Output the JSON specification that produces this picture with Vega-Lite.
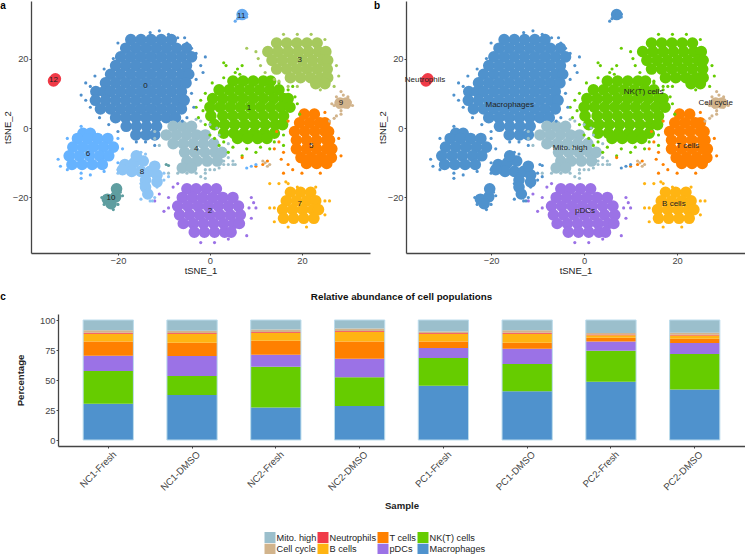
{"padding":0,"background":"white","config":{"view":{"stroke":null},"font":"Liberation Sans","axis":{"grid":false,"domainColor":"#444","domainWidth":1.3,"tickColor":"#444","tickSize":2,"labelColor":"#444","labelFontSize":9.3,"titleFontSize":9.5,"titleFontWeight":"normal","titleColor":"#222","labelPadding":1,"titlePadding":0}},
"datasets":{
"big":[
{"x":-17.2,"y":25.5,"c":0},{"x":-15,"y":25.5,"c":0},{"x":-12.8,"y":25.5,"c":0},{"x":-10.6,"y":25.5,"c":0},{"x":-8.4,"y":25.5,"c":0},
{"x":-18.3,"y":23,"c":0},{"x":-16.1,"y":23,"c":0},{"x":-13.9,"y":23,"c":0},{"x":-11.7,"y":23,"c":0},{"x":-9.5,"y":23,"c":0},{"x":-7.3,"y":23,"c":0},{"x":-5.1,"y":23,"c":0},
{"x":-19.4,"y":20.5,"c":0},{"x":-17.2,"y":20.5,"c":0},{"x":-15,"y":20.5,"c":0},{"x":-12.8,"y":20.5,"c":0},{"x":-10.6,"y":20.5,"c":0},{"x":-8.4,"y":20.5,"c":0},{"x":-6.2,"y":20.5,"c":0},{"x":-4,"y":20.5,"c":0},
{"x":-20.5,"y":18,"c":0},{"x":-18.3,"y":18,"c":0},{"x":-16.1,"y":18,"c":0},{"x":-13.9,"y":18,"c":0},{"x":-11.7,"y":18,"c":0},{"x":-9.5,"y":18,"c":0},{"x":-7.3,"y":18,"c":0},{"x":-5.1,"y":18,"c":0},
{"x":-21.6,"y":15.5,"c":0},{"x":-19.4,"y":15.5,"c":0},{"x":-17.2,"y":15.5,"c":0},{"x":-15,"y":15.5,"c":0},{"x":-12.8,"y":15.5,"c":0},{"x":-10.6,"y":15.5,"c":0},{"x":-8.4,"y":15.5,"c":0},{"x":-6.2,"y":15.5,"c":0},{"x":-4.6,"y":15.5,"c":0},
{"x":-22.7,"y":13,"c":0},{"x":-20.5,"y":13,"c":0},{"x":-18.3,"y":13,"c":0},{"x":-16.1,"y":13,"c":0},{"x":-13.9,"y":13,"c":0},{"x":-11.7,"y":13,"c":0},{"x":-9.5,"y":13,"c":0},{"x":-7.3,"y":13,"c":0},{"x":-5.2,"y":13,"c":0},
{"x":-24.8,"y":10.5,"c":0},{"x":-23,"y":10.5,"c":0},{"x":-21.6,"y":10.5,"c":0},{"x":-19.4,"y":10.5,"c":0},{"x":-17.2,"y":10.5,"c":0},{"x":-15,"y":10.5,"c":0},{"x":-12.8,"y":10.5,"c":0},{"x":-10.6,"y":10.5,"c":0},{"x":-8.4,"y":10.5,"c":0},{"x":-6.2,"y":10.5,"c":0},
{"x":-24.9,"y":8,"c":0},{"x":-22.7,"y":8,"c":0},{"x":-20.5,"y":8,"c":0},{"x":-18.3,"y":8,"c":0},{"x":-16.1,"y":8,"c":0},{"x":-13.9,"y":8,"c":0},{"x":-11.7,"y":8,"c":0},{"x":-9.5,"y":8,"c":0},{"x":-7.3,"y":8,"c":0},{"x":-5.6,"y":8,"c":0},
{"x":-23.8,"y":5.5,"c":0},{"x":-21.6,"y":5.5,"c":0},{"x":-19.4,"y":5.5,"c":0},{"x":-17.2,"y":5.5,"c":0},{"x":-15,"y":5.5,"c":0},{"x":-12.8,"y":5.5,"c":0},{"x":-10.6,"y":5.5,"c":0},{"x":-8.4,"y":5.5,"c":0},{"x":-6.2,"y":5.5,"c":0},
{"x":-20.5,"y":3,"c":0},{"x":-18.3,"y":3,"c":0},{"x":-16.1,"y":3,"c":0},{"x":-13.9,"y":3,"c":0},{"x":-11.7,"y":3,"c":0},{"x":-9.5,"y":3,"c":0},{"x":-7.5,"y":3,"c":0},
{"x":-18.2,"y":0.5,"c":0},{"x":-16,"y":0.5,"c":0},{"x":-13.8,"y":0.5,"c":0},{"x":-11.6,"y":0.5,"c":0},{"x":-16.1,"y":-2,"c":0},{"x":-13.9,"y":-2,"c":0},{"x":-12,"y":-2,"c":0},
{"x":-27.6,"y":-1.5,"c":6},{"x":-26,"y":-1.5,"c":6},{"x":-28.8,"y":-3,"c":6},{"x":-26.6,"y":-3,"c":6},{"x":-24.4,"y":-3,"c":6},{"x":-22.2,"y":-3,"c":6},
{"x":-29.8,"y":-5.5,"c":6},{"x":-27.6,"y":-5.5,"c":6},{"x":-25.4,"y":-5.5,"c":6},{"x":-23.2,"y":-5.5,"c":6},{"x":-21,"y":-5.5,"c":6},
{"x":-30.6,"y":-8,"c":6},{"x":-28.4,"y":-8,"c":6},{"x":-26.2,"y":-8,"c":6},{"x":-24,"y":-8,"c":6},{"x":-22,"y":-8,"c":6},
{"x":-30,"y":-10.5,"c":6},{"x":-27.8,"y":-10.5,"c":6},{"x":-25.6,"y":-10.5,"c":6},{"x":-23.4,"y":-10.5,"c":6},
{"x":-18.5,"y":-10.5,"c":8},{"x":-16.5,"y":-10,"c":8},{"x":-14.5,"y":-9.5,"c":8},{"x":-15,"y":-12.5,"c":8},{"x":-13,"y":-12.5,"c":8},{"x":-11.5,"y":-13.5,"c":8},{"x":-14,"y":-15,"c":8},{"x":-14,"y":-17,"c":8},{"x":-13.5,"y":-19,"c":8},{"x":-17,"y":-12.5,"c":8},{"x":-19,"y":-12,"c":8},{"x":-12,"y":-11,"c":8},{"x":-16,"y":-8,"c":8},{"x":-11.5,"y":-15.5,"c":8},
{"x":-22.3,"y":-20.5,"c":10},{"x":-20.5,"y":-19.8,"c":10},{"x":-21.5,"y":-21.8,"c":10},{"x":-20.3,"y":-17.5,"c":10},
{"x":-34,"y":13.6,"c":12},{"x":-33.6,"y":14.2,"c":12},{"x":7,"y":32.7,"c":11},{"x":28.3,"y":7.2,"c":9},{"x":29.6,"y":7.2,"c":9},
{"x":5,"y":13.5,"c":1},{"x":7.2,"y":13.5,"c":1},{"x":9.4,"y":13.5,"c":1},{"x":11.6,"y":13.5,"c":1},{"x":13.2,"y":13.5,"c":1},
{"x":2,"y":11,"c":1},{"x":4.2,"y":11,"c":1},{"x":6.4,"y":11,"c":1},{"x":8.6,"y":11,"c":1},{"x":10.8,"y":11,"c":1},{"x":13,"y":11,"c":1},{"x":15,"y":11,"c":1},
{"x":0.6,"y":8.5,"c":1},{"x":2.8,"y":8.5,"c":1},{"x":5,"y":8.5,"c":1},{"x":7.2,"y":8.5,"c":1},{"x":9.4,"y":8.5,"c":1},{"x":11.6,"y":8.5,"c":1},{"x":13.8,"y":8.5,"c":1},{"x":16,"y":8.5,"c":1},{"x":17,"y":8.5,"c":1},
{"x":0,"y":6,"c":1},{"x":2.2,"y":6,"c":1},{"x":4.4,"y":6,"c":1},{"x":6.6,"y":6,"c":1},{"x":8.8,"y":6,"c":1},{"x":11,"y":6,"c":1},{"x":13.2,"y":6,"c":1},{"x":15.4,"y":6,"c":1},{"x":17.4,"y":6,"c":1},
{"x":0.2,"y":3.5,"c":1},{"x":2.8,"y":3.5,"c":1},{"x":5,"y":3.5,"c":1},{"x":7.2,"y":3.5,"c":1},{"x":9.4,"y":3.5,"c":1},{"x":11.6,"y":3.5,"c":1},{"x":13.8,"y":3.5,"c":1},{"x":16,"y":3.5,"c":1},
{"x":1,"y":1,"c":1},{"x":3.2,"y":1,"c":1},{"x":5.4,"y":1,"c":1},{"x":7.6,"y":1,"c":1},{"x":9.8,"y":1,"c":1},{"x":12,"y":1,"c":1},{"x":14.2,"y":1,"c":1},{"x":15.8,"y":1,"c":1},
{"x":3,"y":-1.5,"c":1},{"x":5.2,"y":-1.5,"c":1},{"x":7.4,"y":-1.5,"c":1},{"x":9.6,"y":-1.5,"c":1},{"x":11.8,"y":-1.5,"c":1},{"x":14,"y":-1.5,"c":1},
{"x":6,"y":-3,"c":1},{"x":8.2,"y":-3,"c":1},{"x":10.4,"y":-3,"c":1},{"x":12.4,"y":-3,"c":1},
{"x":14.5,"y":24.5,"c":3},{"x":16.7,"y":24.5,"c":3},{"x":18.9,"y":24.5,"c":3},{"x":21.1,"y":24.5,"c":3},{"x":23.3,"y":24.5,"c":3},
{"x":12.6,"y":22,"c":3},{"x":14.8,"y":22,"c":3},{"x":17,"y":22,"c":3},{"x":19.2,"y":22,"c":3},{"x":21.4,"y":22,"c":3},{"x":23.6,"y":22,"c":3},{"x":25.2,"y":22,"c":3},
{"x":13.5,"y":19.5,"c":3},{"x":15.7,"y":19.5,"c":3},{"x":17.9,"y":19.5,"c":3},{"x":20.1,"y":19.5,"c":3},{"x":22.3,"y":19.5,"c":3},{"x":24.5,"y":19.5,"c":3},{"x":25.6,"y":19.5,"c":3},
{"x":14.5,"y":17,"c":3},{"x":16.7,"y":17,"c":3},{"x":18.9,"y":17,"c":3},{"x":21.1,"y":17,"c":3},{"x":23.3,"y":17,"c":3},{"x":25.5,"y":17,"c":3},
{"x":17.5,"y":14.5,"c":3},{"x":19.7,"y":14.5,"c":3},{"x":21.9,"y":14.5,"c":3},{"x":24.1,"y":14.5,"c":3},{"x":25.6,"y":14.5,"c":3},{"x":23,"y":12.8,"c":3},{"x":25,"y":12.8,"c":3},
{"x":20.5,"y":4,"c":5},{"x":22.7,"y":4,"c":5},{"x":19.5,"y":1.5,"c":5},{"x":21.7,"y":1.5,"c":5},{"x":23.9,"y":1.5,"c":5},{"x":25,"y":1.5,"c":5},
{"x":18.4,"y":-1,"c":5},{"x":20.6,"y":-1,"c":5},{"x":22.8,"y":-1,"c":5},{"x":25,"y":-1,"c":5},{"x":25.8,"y":-1,"c":5},
{"x":18.8,"y":-3.5,"c":5},{"x":21,"y":-3.5,"c":5},{"x":23.2,"y":-3.5,"c":5},{"x":25.4,"y":-3.5,"c":5},{"x":26,"y":-3.5,"c":5},
{"x":18.8,"y":-6,"c":5},{"x":21,"y":-6,"c":5},{"x":23.2,"y":-6,"c":5},{"x":25.4,"y":-6,"c":5},{"x":26.5,"y":-6,"c":5},
{"x":19.8,"y":-8.5,"c":5},{"x":22,"y":-8.5,"c":5},{"x":24.2,"y":-8.5,"c":5},{"x":26.4,"y":-8.5,"c":5},{"x":21,"y":-10.2,"c":5},{"x":23.2,"y":-10.2,"c":5},{"x":25.4,"y":-10.2,"c":5},
{"x":-8,"y":0.5,"c":4},{"x":-6,"y":0.5,"c":4},{"x":-4,"y":0.5,"c":4},
{"x":-9.5,"y":-2,"c":4},{"x":-7.3,"y":-2,"c":4},{"x":-5.1,"y":-2,"c":4},{"x":-2.9,"y":-2,"c":4},{"x":-1,"y":-2,"c":4},
{"x":-8,"y":-4.5,"c":4},{"x":-5.8,"y":-4.5,"c":4},{"x":-3.6,"y":-4.5,"c":4},{"x":-1.4,"y":-4.5,"c":4},{"x":0.8,"y":-4.5,"c":4},
{"x":-5.5,"y":-7,"c":4},{"x":-3.3,"y":-7,"c":4},{"x":-1.1,"y":-7,"c":4},{"x":1.1,"y":-7,"c":4},{"x":2.6,"y":-7,"c":4},
{"x":-5,"y":-9.5,"c":4},{"x":-2.8,"y":-9.5,"c":4},{"x":-0.6,"y":-9.5,"c":4},{"x":1.6,"y":-9.5,"c":4},{"x":-6,"y":-11.5,"c":4},{"x":-4,"y":-11.5,"c":4},
{"x":-5,"y":-17.5,"c":2},{"x":-3,"y":-17.5,"c":2},{"x":-0.8,"y":-17.5,"c":2},{"x":1.4,"y":-17.5,"c":2},
{"x":-6,"y":-20,"c":2},{"x":-3.8,"y":-20,"c":2},{"x":-1.6,"y":-20,"c":2},{"x":0.6,"y":-20,"c":2},{"x":2.8,"y":-20,"c":2},{"x":5,"y":-20,"c":2},
{"x":-7,"y":-22.5,"c":2},{"x":-4.8,"y":-22.5,"c":2},{"x":-2.6,"y":-22.5,"c":2},{"x":-0.4,"y":-22.5,"c":2},{"x":1.8,"y":-22.5,"c":2},{"x":4,"y":-22.5,"c":2},{"x":6.2,"y":-22.5,"c":2},
{"x":-6.6,"y":-25,"c":2},{"x":-4.4,"y":-25,"c":2},{"x":-2.2,"y":-25,"c":2},{"x":0,"y":-25,"c":2},{"x":2.2,"y":-25,"c":2},{"x":4.4,"y":-25,"c":2},{"x":6.6,"y":-25,"c":2},
{"x":-5.8,"y":-27.5,"c":2},{"x":-3.6,"y":-27.5,"c":2},{"x":-1.4,"y":-27.5,"c":2},{"x":0.8,"y":-27.5,"c":2},{"x":3,"y":-27.5,"c":2},{"x":5.2,"y":-27.5,"c":2},{"x":6.4,"y":-27.5,"c":2},
{"x":-3.4,"y":-30,"c":2},{"x":-1.2,"y":-30,"c":2},{"x":1,"y":-30,"c":2},{"x":3.2,"y":-30,"c":2},{"x":4.6,"y":-30,"c":2},
{"x":17.5,"y":-18.5,"c":7},{"x":19.7,"y":-18.5,"c":7},{"x":21.9,"y":-18.5,"c":7},
{"x":16.6,"y":-21,"c":7},{"x":18.8,"y":-21,"c":7},{"x":21,"y":-21,"c":7},{"x":23,"y":-21,"c":7},
{"x":15.8,"y":-23.5,"c":7},{"x":18,"y":-23.5,"c":7},{"x":20.2,"y":-23.5,"c":7},{"x":22.4,"y":-23.5,"c":7},{"x":23.6,"y":-23.5,"c":7},
{"x":16,"y":-26,"c":7},{"x":18.2,"y":-26,"c":7},{"x":20.4,"y":-26,"c":7},{"x":22.6,"y":-26,"c":7}
],
"small":[
{"x":7,"y":32.5,"c":11},{"x":8,"y":32.8,"c":11},{"x":6.5,"y":33,"c":11},{"x":7.5,"y":33.4,"c":11},{"x":6,"y":31.5,"c":11},{"x":5.5,"y":30.8,"c":11},{"x":6.5,"y":31.8,"c":11},{"x":8,"y":32,"c":11},{"x":7.2,"y":31.8,"c":11},
{"x":26.5,"y":7,"c":9},{"x":27.5,"y":7.5,"c":9},{"x":28.5,"y":8,"c":9},{"x":29.5,"y":8,"c":9},{"x":30.5,"y":7.5,"c":9},{"x":31,"y":6.5,"c":9},{"x":29,"y":9.5,"c":9},{"x":28.5,"y":10.5,"c":9},{"x":29,"y":6.5,"c":9},{"x":28,"y":6,"c":9},{"x":29.5,"y":6.5,"c":9},{"x":28.5,"y":5,"c":9},{"x":28.5,"y":4,"c":9},{"x":27.5,"y":3.5,"c":9},{"x":27,"y":2.8,"c":9},{"x":26,"y":2,"c":9},{"x":27.5,"y":9,"c":9},{"x":30,"y":9,"c":9},{"x":30,"y":6,"c":9},{"x":27,"y":6.5,"c":9},{"x":28.5,"y":7,"c":9},
{"x":-1.5,"y":5,"c":1},{"x":-2,"y":8,"c":1},{"x":-1,"y":1,"c":1},{"x":0,"y":-2,"c":1},{"x":1,"y":-3,"c":1},{"x":3,"y":-4,"c":1},{"x":-2.5,"y":3,"c":1},{"x":-3,"y":6,"c":1},{"x":-1,"y":10,"c":1},{"x":0.5,"y":13,"c":1},{"x":2,"y":-5,"c":1},{"x":5,"y":-5.5,"c":1},{"x":8,"y":-6,"c":1},{"x":11,"y":-5.5,"c":1},{"x":14,"y":-4,"c":1},{"x":16,"y":-2,"c":1},{"x":3,"y":14.5,"c":1},{"x":5.5,"y":16,"c":1},{"x":6,"y":17,"c":1},{"x":6.5,"y":15.5,"c":1},{"x":7,"y":18,"c":1},{"x":17,"y":11,"c":1},{"x":18.5,"y":9,"c":1},{"x":19,"y":7,"c":1},{"x":19.5,"y":4,"c":1},{"x":15,"y":13,"c":1},{"x":18,"y":12,"c":1},{"x":4,"y":-7,"c":1},{"x":7,"y":-8,"c":1},{"x":10,"y":-7,"c":1},{"x":3.5,"y":18,"c":1},{"x":3,"y":18.8,"c":1},{"x":13,"y":-6,"c":1},{"x":16,"y":-5,"c":1},
{"x":12,"y":16,"c":3},{"x":14,"y":14,"c":3},{"x":10.5,"y":20,"c":3},{"x":11,"y":18,"c":3},{"x":15,"y":13.5,"c":3},{"x":17,"y":12,"c":3},{"x":19,"y":12,"c":3},{"x":24,"y":11,"c":3},{"x":27,"y":12,"c":3},{"x":28,"y":15,"c":3},{"x":27.5,"y":18,"c":3},{"x":16,"y":27,"c":3},{"x":19,"y":27,"c":3},{"x":22,"y":27,"c":3},{"x":25,"y":25.5,"c":3},{"x":10,"y":22,"c":3},{"x":8,"y":23,"c":3},
{"x":15,"y":-4,"c":5},{"x":14,"y":-6,"c":5},{"x":15.5,"y":-9,"c":5},{"x":16,"y":-7,"c":5},{"x":17,"y":-10.5,"c":5},{"x":18,"y":-12,"c":5},{"x":20,"y":-13,"c":5},{"x":24,"y":-13,"c":5},{"x":17,"y":2,"c":5},{"x":28.5,"y":-8,"c":5},{"x":28,"y":-3,"c":5},{"x":25,"y":4.5,"c":5},{"x":14.5,"y":-1,"c":5},{"x":16,"y":-13,"c":5},{"x":7,"y":-8.5,"c":5},{"x":11.5,"y":-10.5,"c":5},{"x":12.5,"y":-9.5,"c":5},{"x":10,"y":-11,"c":5},
{"x":12,"y":-10,"c":9},{"x":13,"y":-10.5,"c":9},{"x":11.5,"y":-9.5,"c":9},{"x":12.5,"y":-11,"c":9},{"x":9,"y":-11,"c":6},{"x":8,"y":-11.5,"c":6},{"x":10,"y":-10.5,"c":6},
{"x":-9,"y":-23,"c":2},{"x":-10,"y":-24,"c":2},{"x":-9,"y":-20,"c":2},{"x":-8,"y":-17,"c":2},{"x":-7,"y":-16,"c":2},{"x":-2,"y":-33,"c":2},{"x":1,"y":-33,"c":2},{"x":4,"y":-32,"c":2},{"x":8,"y":-31,"c":2},{"x":9,"y":-26,"c":2},{"x":8.5,"y":-23,"c":2},{"x":9.5,"y":-21.5,"c":2},{"x":10,"y":-23,"c":2},{"x":9,"y":-20,"c":2},{"x":-11,"y":-19,"c":2},{"x":-12,"y":-21,"c":2},
{"x":13,"y":-23,"c":7},{"x":14,"y":-23,"c":7},{"x":14,"y":-27,"c":7},{"x":15,"y":-16,"c":7},{"x":16.5,"y":-15.5,"c":7},{"x":17,"y":-16,"c":7},{"x":19,"y":-17,"c":7},{"x":23,"y":-17,"c":7},{"x":25,"y":-21,"c":7},{"x":26,"y":-21,"c":7},{"x":25,"y":-25,"c":7},{"x":17,"y":-28.5,"c":7},{"x":21,"y":-28.5,"c":7},{"x":13,"y":-16,"c":7},
{"x":3,"y":-10.5,"c":4},{"x":4,"y":-10.5,"c":4},{"x":5,"y":-10.5,"c":4},{"x":5.5,"y":-10.5,"c":4},{"x":3,"y":-9.5,"c":4},{"x":5,"y":-9.5,"c":4},{"x":4,"y":-8.5,"c":4},{"x":0,"y":-12,"c":4},{"x":-1,"y":-13,"c":4},{"x":-1,"y":-14.5,"c":4},{"x":-2,"y":-14,"c":4},{"x":-3,"y":-13,"c":4},{"x":-5,"y":-13,"c":4},{"x":-7,"y":-13,"c":4},{"x":1,"y":-12,"c":4},{"x":2,"y":-11.5,"c":4},{"x":-1,"y":-12,"c":4},{"x":-11,"y":-5,"c":4},{"x":-12,"y":-3,"c":4},{"x":-12,"y":-1,"c":4},{"x":3,"y":-6,"c":4},{"x":4,"y":-4.5,"c":4},{"x":2,"y":-2,"c":4},{"x":1.5,"y":0,"c":4},{"x":0,"y":1,"c":4},{"x":-2,"y":2,"c":4},{"x":-3,"y":2.5,"c":4},{"x":-9,"y":-13,"c":4},
{"x":-11,"y":28,"c":0},{"x":-13,"y":27.5,"c":0},{"x":-9,"y":27,"c":0},{"x":-7,"y":26,"c":0},{"x":-4,"y":23,"c":0},{"x":-3,"y":21.5,"c":0},{"x":-1,"y":20.5,"c":0},{"x":-2,"y":18,"c":0},{"x":-1.5,"y":16,"c":0},{"x":-3,"y":14,"c":0},{"x":-27,"y":8,"c":0},{"x":-28,"y":9.5,"c":0},{"x":-26,"y":12,"c":0},{"x":-27,"y":13,"c":0},{"x":-25,"y":15,"c":0},{"x":-23,"y":17,"c":0},{"x":-26,"y":6,"c":0},{"x":-24,"y":3,"c":0},{"x":-4,"y":10,"c":0},{"x":-3.5,"y":6,"c":0},{"x":-5,"y":3,"c":0},{"x":-6,"y":2,"c":0},{"x":-22,"y":1,"c":0},{"x":-20,"y":-1,"c":0},{"x":-14,"y":-4,"c":0},{"x":-12,"y":-5,"c":0},{"x":-16,"y":-4,"c":0},{"x":-21,"y":20,"c":0},{"x":-20,"y":24.5,"c":0},{"x":-5,"y":24.5,"c":0},{"x":-5.5,"y":26,"c":0},
{"x":-9.5,"y":-10.5,"c":10},{"x":-9,"y":-10.8,"c":10},
{"x":-28,"y":-13,"c":6},{"x":-26,"y":-13.5,"c":6},{"x":-28,"y":-14.5,"c":6},{"x":-31,"y":-12,"c":6},{"x":-33,"y":-9,"c":6},{"x":-32.5,"y":-11,"c":6},{"x":-31,"y":-3,"c":6},{"x":-28,"y":0.5,"c":6},{"x":-20,"y":-3,"c":6},{"x":-19,"y":-6,"c":6},{"x":-20,"y":-10,"c":6},{"x":-23,"y":-12.5,"c":6},
{"x":-10,"y":-15,"c":8},{"x":-10,"y":-13,"c":8},{"x":-9,"y":-14,"c":8},{"x":-16,"y":-7,"c":8},{"x":-15,"y":-7,"c":8},{"x":-14,"y":-7.5,"c":8},{"x":-15,"y":-20.5,"c":8},{"x":-13,"y":-21,"c":8},{"x":-12,"y":-20,"c":8},{"x":-11.5,"y":-17,"c":8},{"x":-15,"y":-16,"c":8},{"x":-12,"y":-10,"c":8},{"x":-20,"y":-12,"c":8},{"x":-20,"y":-13,"c":8},{"x":-19,"y":-13,"c":8},{"x":-12.5,"y":-21,"c":8},
{"x":-20,"y":-16.5,"c":10},{"x":-19.5,"y":-17.5,"c":10},{"x":-19.5,"y":-18.5,"c":10},{"x":-23.5,"y":-20,"c":10},{"x":-23,"y":-22,"c":10},{"x":-21,"y":-23.5,"c":10},{"x":-20,"y":-22,"c":10},{"x":-19,"y":-19.5,"c":10}
],
"labA":[{"x":-14,"y":12,"t":"0"},{"x":8.5,"y":5.8,"t":"1"},{"x":0,"y":-24,"t":"2"},{"x":19.5,"y":19.5,"t":"3"},{"x":-3,"y":-6,"t":"4"},{"x":22,"y":-5.2,"t":"5"},{"x":-26.5,"y":-7.5,"t":"6"},{"x":19.5,"y":-22,"t":"7"},{"x":-14.8,"y":-12.7,"t":"8"},{"x":28.5,"y":7.2,"t":"9"},{"x":-21.5,"y":-20.2,"t":"10"},{"x":6.8,"y":32.3,"t":"11"},{"x":-34,"y":13.8,"t":"12"}],
"labB":[{"x":-34.2,"y":13.9,"t":"Neutrophils"},{"x":-16,"y":6.5,"t":"Macrophages"},{"x":12.8,"y":10.3,"t":"NK(T) cells"},{"x":28.3,"y":7.2,"t":"Cell cycle"},{"x":-3,"y":-5.8,"t":"Mito. high"},{"x":22.3,"y":-5.2,"t":"T cells"},{"x":0.2,"y":-24,"t":"pDCs"},{"x":19.3,"y":-22,"t":"B cells"}],
"bars":[
{"s":"NC1-Fresh","p":"Macrophages","r":1,"v":30.3},{"s":"NC1-Fresh","p":"NK(T) cells","r":2,"v":27.2},{"s":"NC1-Fresh","p":"pDCs","r":3,"v":12.8},{"s":"NC1-Fresh","p":"T cells","r":4,"v":11.7},{"s":"NC1-Fresh","p":"B cells","r":5,"v":6.6},{"s":"NC1-Fresh","p":"Neutrophils","r":6,"v":0.8},{"s":"NC1-Fresh","p":"Cell cycle","r":7,"v":2},{"s":"NC1-Fresh","p":"Mito. high","r":8,"v":8.6},
{"s":"NC1-DMSO","p":"Macrophages","r":1,"v":37.5},{"s":"NC1-DMSO","p":"NK(T) cells","r":2,"v":15.8},{"s":"NC1-DMSO","p":"pDCs","r":3,"v":16.7},{"s":"NC1-DMSO","p":"T cells","r":4,"v":11},{"s":"NC1-DMSO","p":"B cells","r":5,"v":7.6},{"s":"NC1-DMSO","p":"Neutrophils","r":6,"v":0.6},{"s":"NC1-DMSO","p":"Cell cycle","r":7,"v":1.9},{"s":"NC1-DMSO","p":"Mito. high","r":8,"v":8.9},
{"s":"NC2-Fresh","p":"Macrophages","r":1,"v":27},{"s":"NC2-Fresh","p":"NK(T) cells","r":2,"v":34},{"s":"NC2-Fresh","p":"pDCs","r":3,"v":10},{"s":"NC2-Fresh","p":"T cells","r":4,"v":11.8},{"s":"NC2-Fresh","p":"B cells","r":5,"v":6.6},{"s":"NC2-Fresh","p":"Neutrophils","r":6,"v":0.6},{"s":"NC2-Fresh","p":"Cell cycle","r":7,"v":2},{"s":"NC2-Fresh","p":"Mito. high","r":8,"v":8},
{"s":"NC2-DMSO","p":"Macrophages","r":1,"v":28.3},{"s":"NC2-DMSO","p":"NK(T) cells","r":2,"v":23.9},{"s":"NC2-DMSO","p":"pDCs","r":3,"v":15.6},{"s":"NC2-DMSO","p":"T cells","r":4,"v":14.2},{"s":"NC2-DMSO","p":"B cells","r":5,"v":8.3},{"s":"NC2-DMSO","p":"Neutrophils","r":6,"v":0.5},{"s":"NC2-DMSO","p":"Cell cycle","r":7,"v":2.2},{"s":"NC2-DMSO","p":"Mito. high","r":8,"v":7},
{"s":"PC1-Fresh","p":"Macrophages","r":1,"v":45.3},{"s":"PC1-Fresh","p":"NK(T) cells","r":2,"v":23},{"s":"PC1-Fresh","p":"pDCs","r":3,"v":8.4},{"s":"PC1-Fresh","p":"T cells","r":4,"v":5.3},{"s":"PC1-Fresh","p":"B cells","r":5,"v":6.6},{"s":"PC1-Fresh","p":"Neutrophils","r":6,"v":0.6},{"s":"PC1-Fresh","p":"Cell cycle","r":7,"v":1.3},{"s":"PC1-Fresh","p":"Mito. high","r":8,"v":9.5},
{"s":"PC1-DMSO","p":"Macrophages","r":1,"v":40.6},{"s":"PC1-DMSO","p":"NK(T) cells","r":2,"v":22.7},{"s":"PC1-DMSO","p":"pDCs","r":3,"v":12.7},{"s":"PC1-DMSO","p":"T cells","r":4,"v":5},{"s":"PC1-DMSO","p":"B cells","r":5,"v":7.6},{"s":"PC1-DMSO","p":"Neutrophils","r":6,"v":0.8},{"s":"PC1-DMSO","p":"Cell cycle","r":7,"v":2},{"s":"PC1-DMSO","p":"Mito. high","r":8,"v":8.6},
{"s":"PC2-Fresh","p":"Macrophages","r":1,"v":48.6},{"s":"PC2-Fresh","p":"NK(T) cells","r":2,"v":25.8},{"s":"PC2-Fresh","p":"pDCs","r":3,"v":7.6},{"s":"PC2-Fresh","p":"T cells","r":4,"v":3.3},{"s":"PC2-Fresh","p":"B cells","r":5,"v":1.9},{"s":"PC2-Fresh","p":"Neutrophils","r":6,"v":0.8},{"s":"PC2-Fresh","p":"Cell cycle","r":7,"v":1.2},{"s":"PC2-Fresh","p":"Mito. high","r":8,"v":10.8},
{"s":"PC2-DMSO","p":"Macrophages","r":1,"v":42},{"s":"PC2-DMSO","p":"NK(T) cells","r":2,"v":29.7},{"s":"PC2-DMSO","p":"pDCs","r":3,"v":9.1},{"s":"PC2-DMSO","p":"T cells","r":4,"v":3.6},{"s":"PC2-DMSO","p":"B cells","r":5,"v":2.6},{"s":"PC2-DMSO","p":"Neutrophils","r":6,"v":0.8},{"s":"PC2-DMSO","p":"Cell cycle","r":7,"v":1.6},{"s":"PC2-DMSO","p":"Mito. high","r":8,"v":10.6}
]},
"resolve":{"scale":{"color":"independent"},"legend":{"color":"independent"}},
"vconcat":[{"resolve":{"scale":{"color":"independent"}},"hconcat":[
{"width":339,"height":252,"layer":[
{"data":{"name":"big"},"mark":{"type":"point","filled":true,"shape":"circle","size":135,"opacity":1},"encoding":{
"x":{"field":"x","type":"quantitative","title":"tSNE_1","scale":{"domain":[-38.9,34.8],"nice":false,"zero":false},"axis":{"values":[-20,0,20]}},
"y":{"field":"y","type":"quantitative","title":"tSNE_2","scale":{"domain":[-36,36.6],"nice":false,"zero":false},"axis":{"values":[-20,0,20]}},
"color":{"field":"c","type":"nominal","legend":null,"scale":{"domain":[0,1,2,3,4,5,6,7,8,9,10,11,12],"range":["#4f8fcb","#66cc00","#9b72e6","#a6c95d","#9bbfcc","#ff8000","#66b3ff","#ffb412","#8cc4f5","#d2b48c","#5f9ea0","#66aaf0","#f03b48"]}}}},
{"data":{"name":"small"},"mark":{"type":"point","filled":true,"shape":"circle","size":10,"opacity":1},"encoding":{"x":{"field":"x","type":"quantitative"},"y":{"field":"y","type":"quantitative"},"color":{"field":"c","type":"nominal"}}},
{"data":{"name":"labA"},"mark":{"type":"text","fontSize":8,"color":"#222"},"encoding":{"x":{"field":"x","type":"quantitative"},"y":{"field":"y","type":"quantitative"},"text":{"field":"t"}}},
{"data":{"values":[{"x":-45.6,"y":35.3,"t":"a"}]},"mark":{"type":"text","fontSize":10,"fontWeight":"bold","align":"left","color":"#000"},"encoding":{"x":{"field":"x","type":"quantitative"},"y":{"field":"y","type":"quantitative"},"text":{"field":"t"}}}
]},
{"width":339,"height":252,"layer":[
{"data":{"name":"big"},"mark":{"type":"point","filled":true,"shape":"circle","size":135,"opacity":1},"encoding":{
"x":{"field":"x","type":"quantitative","title":"tSNE_1","scale":{"domain":[-38.3,34.6],"nice":false,"zero":false},"axis":{"values":[-20,0,20]}},
"y":{"field":"y","type":"quantitative","title":"tSNE_2","scale":{"domain":[-36,36.6],"nice":false,"zero":false},"axis":{"values":[-20,0,20]}},
"color":{"field":"c","type":"nominal","legend":null,"scale":{"domain":[0,1,2,3,4,5,6,7,8,9,10,11,12],"range":["#4f92cd","#66cc00","#9b72e6","#66cc00","#9bbfcc","#ff8000","#4f92cd","#ffb412","#4f92cd","#d2b48c","#4f92cd","#4f92cd","#f03b48"]}}}},
{"data":{"name":"small"},"mark":{"type":"point","filled":true,"shape":"circle","size":10,"opacity":1},"encoding":{"x":{"field":"x","type":"quantitative"},"y":{"field":"y","type":"quantitative"},"color":{"field":"c","type":"nominal"}}},
{"data":{"name":"labB"},"mark":{"type":"text","fontSize":8,"color":"#222"},"encoding":{"x":{"field":"x","type":"quantitative"},"y":{"field":"y","type":"quantitative"},"text":{"field":"t"}}},
{"data":{"values":[{"x":-45.2,"y":35.3,"t":"b"}]},"mark":{"type":"text","fontSize":10,"fontWeight":"bold","align":"left","color":"#000"},"encoding":{"x":{"field":"x","type":"quantitative"},"y":{"field":"y","type":"quantitative"},"text":{"field":"t"}}}
]}
],"spacing":3},
{"bounds":"flush","spacing":0,"hconcat":[
{"width":26.5,"height":132,"data":{"values":[]},"mark":{"type":"point"},"encoding":{}},
{"width":687,"height":132,"title":{"text":"Relative abundance of cell populations","fontSize":9.8,"fontWeight":"bold","color":"#111","anchor":"middle","offset":-10},
"layer":[
{"data":{"name":"bars"},"mark":{"type":"bar"},"encoding":{
"x":{"field":"s","type":"nominal","sort":["NC1-Fresh","NC1-DMSO","NC2-Fresh","NC2-DMSO","PC1-Fresh","PC1-DMSO","PC2-Fresh","PC2-DMSO"],"title":"Sample","scale":{"paddingInner":0.4,"paddingOuter":0.3},"axis":{"labelAngle":-45,"labelAlign":"right","labelBaseline":"top","labelOffset":3,"labelFontSize":9.6,"titleFontWeight":"bold","titleFontSize":9.6,"titlePadding":9}},
"y":{"field":"v","type":"quantitative","aggregate":"sum","stack":"zero","title":"Percentage","scale":{"domain":[-5,105],"nice":false,"zero":false},"axis":{"values":[0,25,50,75,100],"labelOverlap":false,"titleFontWeight":"bold","titleFontSize":9.6,"titlePadding":14,"labelFontSize":9.3}},
"order":{"field":"r","type":"ordinal"},
"color":{"field":"p","type":"nominal","title":null,"scale":{"domain":["Mito. high","Cell cycle","Neutrophils","B cells","T cells","pDCs","NK(T) cells","Macrophages"],"range":["#9bbfcc","#d2b48c","#f03b48","#ffb412","#ff8000","#9b72e6","#66cc00","#4f92cd"]},"legend":{"orient":"none","legendX":233.5,"legendY":218,"columns":4,"symbolType":"square","symbolSize":121,"symbolStrokeWidth":0,"labelFontSize":9.2,"labelColor":"#222","labelOffset":1,"columnPadding":1,"rowPadding":0.7,"padding":0}}}},
{"data":{"name":"bars"},"mark":{"type":"bar","fillOpacity":0,"stroke":"#bcdcec","strokeWidth":1},"encoding":{"x":{"field":"s","type":"nominal","sort":["NC1-Fresh","NC1-DMSO","NC2-Fresh","NC2-DMSO","PC1-Fresh","PC1-DMSO","PC2-Fresh","PC2-DMSO"]},"y":{"field":"v","type":"quantitative","aggregate":"sum","title":"Percentage","axis":{"values":[0,25,50,75,100],"labelOverlap":false,"titleFontWeight":"bold","titleFontSize":9.6,"titlePadding":14,"labelFontSize":9.3}}}},
{"data":{"values":[{"s":"NC1-Fresh","y":119,"t":"c"}]},"mark":{"type":"text","fontSize":10,"fontWeight":"bold","align":"left","dx":-108,"color":"#000"},"encoding":{"x":{"field":"s","type":"nominal","sort":["NC1-Fresh","NC1-DMSO","NC2-Fresh","NC2-DMSO","PC1-Fresh","PC1-DMSO","PC2-Fresh","PC2-DMSO"]},"y":{"field":"y","type":"quantitative","title":"Percentage","axis":{"values":[0,25,50,75,100],"labelOverlap":false,"titleFontWeight":"bold","titleFontSize":9.6,"titlePadding":14,"labelFontSize":9.3}},"text":{"field":"t"}}}
]}
]}
],"spacing":17}
